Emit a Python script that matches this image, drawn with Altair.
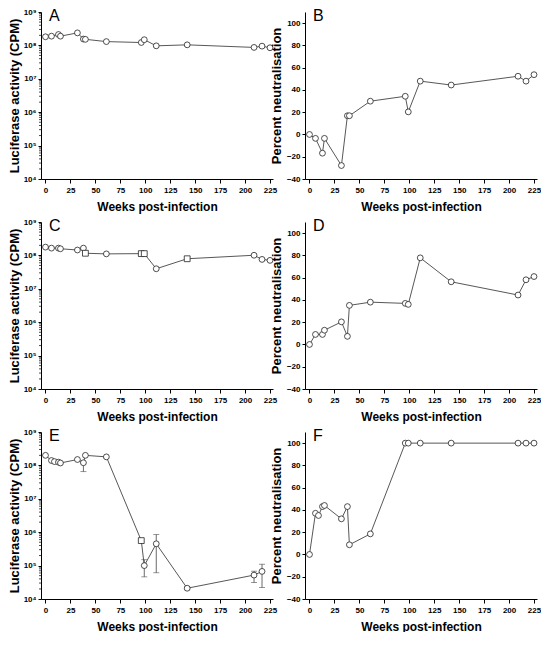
import altair as alt
import pandas as pd

# ---------------- data ----------------
weeks_std = [0, 6, 13, 15, 32, 38, 40, 61, 96, 99, 111, 142, 209, 217, 225]
weeks_e = [0, 6, 9, 13, 15, 32, 38, 40, 61, 96, 99, 111, 142, 209, 217]
weeks_f = [0, 6, 9, 13, 15, 32, 38, 40, 61, 96, 99, 111, 142, 209, 217, 225]

cpm_a = [1.81e8, 1.89e8, 2.12e8, 1.89e8, 2.37e8, 1.55e8, 1.52e8, 1.30e8,
         1.22e8, 1.48e8, 9.7e7, 1.04e8, 8.7e7, 9.5e7, 8.5e7]
shape_a = ["circle"] * 15

neut_b = [0, -3.5, -16.8, -3.5, -27.9, 16.8, 16.8, 29.9, 34.3, 20.3,
          47.9, 44.4, 52.3, 47.9, 53.7]

cpm_c = [1.77e8, 1.65e8, 1.65e8, 1.58e8, 1.45e8, 1.65e8, 1.16e8, 1.11e8,
         1.13e8, 1.13e8, 3.98e7, 7.94e7, 1.01e8, 7.59e7, 7.1e7]
shape_c = ["circle", "circle", "circle", "circle", "circle", "circle", "square",
           "circle", "square", "square", "circle", "square", "circle", "circle",
           "circle"]

neut_d = [0, 9.0, 9.0, 12.8, 20.3, 7.3, 35.1, 38.0, 36.9, 36.0, 77.8, 56.3,
          44.4, 58.1, 61.0]

cpm_e = [2.0e8, 1.4e8, 1.3e8, 1.25e8, 1.18e8, 1.5e8, 1.2e8, 2.0e8, 1.8e8,
         5.6e5, 1.0e5, 4.5e5, 2.1e4, 5.2e4, 6.7e4]
shape_e = ["circle"] * 9 + ["square"] + ["circle"] * 5
err_weeks_e = [38, 99, 111, 142, 209, 217]
err_lo_e = [6.5e7, 4.6e4, 6.1e4, 1.9e4, 3.1e4, 2.2e4]
err_hi_e = [1.2e8, 1.5e5, 8.5e5, 2.3e4, 6.8e4, 1.1e5]

neut_f = [0, 37, 35, 43, 44, 32, 43, 8.7, 18.5, 100, 100, 100, 100, 100, 100, 100]

x_ticks = [0, 25, 50, 75, 100, 125, 150, 175, 200, 225]
log_ticks = [1e4, 1e5, 1e6, 1e7, 1e8, 1e9]
pct_ticks = [-40, -20, 0, 20, 40, 60, 80, 100]
minor_log = [k * 10.0 ** n for n in range(4, 9) for k in range(2, 10)]

W, H = 232, 167
FONT = "Liberation Sans"

x_scale = alt.Scale(domain=[-4.5, 228], nice=False, zero=False)
x_axis = alt.Axis(values=x_ticks, title="Weeks post-infection", titleFontSize=12,
                  titlePadding=7, labelPadding=3, tickSize=4, labelFlush=False,
                  labelOverlap=False)

log_scale = alt.Scale(type="log", domain=[1e4, 1e9], nice=False)
log_axis = alt.Axis(values=log_ticks, title="Luciferase activity (CPM)",
                    titleFontSize=13, titlePadding=2, labelPadding=2, tickSize=3,
                    labelFlush=False, labelOverlap=False,
                    labelExpr="'10' + ['⁰','¹','²','³','⁴','⁵','⁶','⁷','⁸','⁹'][round(log(datum.value)/LN10)]")

pct_scale = alt.Scale(domain=[-40, 110], nice=False, zero=False)
pct_axis = alt.Axis(values=pct_ticks, title="Percent neutralisation",
                    titleFontSize=13, titlePadding=3, labelPadding=2, tickSize=3,
                    labelFlush=False, labelOverlap=False)


def panel(letter, weeks, vals, shapes, log=True, err=None):
    df = pd.DataFrame({"wk": weeks, "val": vals, "shape": shapes})
    ysc = log_scale if log else pct_scale
    yax = log_axis if log else pct_axis
    X = alt.X("wk:Q", scale=x_scale, axis=x_axis)
    Y = alt.Y("val:Q", scale=ysc, axis=yax)
    layers = []
    if err is not None:
        ew, lo, hi = err
        edf = pd.DataFrame({"wk": ew, "val": lo, "hi": hi})
        layers.append(alt.Chart(edf).mark_rule(color="#444", strokeWidth=0.8)
                      .encode(x=X, y=Y, y2="hi:Q"))
        cap_df = pd.concat([pd.DataFrame({"wk": ew, "val": lo}),
                            pd.DataFrame({"wk": ew, "val": hi})])
        layers.append(alt.Chart(cap_df).mark_tick(orient="horizontal", size=6,
                                                  thickness=0.8, color="#444")
                      .encode(x=X, y=Y))
    layers.append(alt.Chart(df).mark_line(color="#444", strokeWidth=0.9)
                  .encode(x=X, y=Y))
    layers.append(alt.Chart(df).mark_point(fill="white", fillOpacity=1,
                                           stroke="#222", strokeWidth=0.8,
                                           size=34, opacity=1)
                  .encode(x=X, y=Y, shape=alt.Shape("shape:N", scale=None)))
    if log:
        mdf = pd.DataFrame({"val": minor_log})
        layers.append(alt.Chart(mdf).mark_rule(color="black", strokeWidth=0.7)
                      .encode(y=Y, x=alt.value(-2), x2=alt.value(0)))
    ldf = pd.DataFrame({"label": [letter]})
    layers.append(alt.Chart(ldf).mark_text(align="left", baseline="top",
                                           fontSize=16, font=FONT,
                                           color="black")
                  .encode(text="label:N", x=alt.value(8), y=alt.value(-4)))
    return alt.layer(*layers).properties(width=W, height=H)


pA = panel("A", weeks_std, cpm_a, shape_a, log=True)
pB = panel("B", weeks_std, neut_b, ["circle"] * 15, log=False)
pC = panel("C", weeks_std, cpm_c, shape_c, log=True)
pD = panel("D", weeks_std, neut_d, ["circle"] * 15, log=False)
pE = panel("E", weeks_e, cpm_e, shape_e, log=True,
           err=(err_weeks_e, err_lo_e, err_hi_e))
pF = panel("F", weeks_f, neut_f, ["circle"] * 16, log=False)

chart = alt.concat(pA, pB, pC, pD, pE, pF, columns=2,
                   spacing={"row": 43, "column": 32},
                   bounds="flush").properties(
    padding=0
).configure_view(stroke=None).configure_axis(
    grid=False, domainColor="black", tickColor="black", labelColor="black",
    titleColor="black", labelFont=FONT, titleFont=FONT, labelFontWeight="bold",
    titleFontWeight="bold", labelFontSize=8, domainWidth=1, tickWidth=1
)

chart.save("out.html", embed_options={"renderer": "svg", "actions": False})
